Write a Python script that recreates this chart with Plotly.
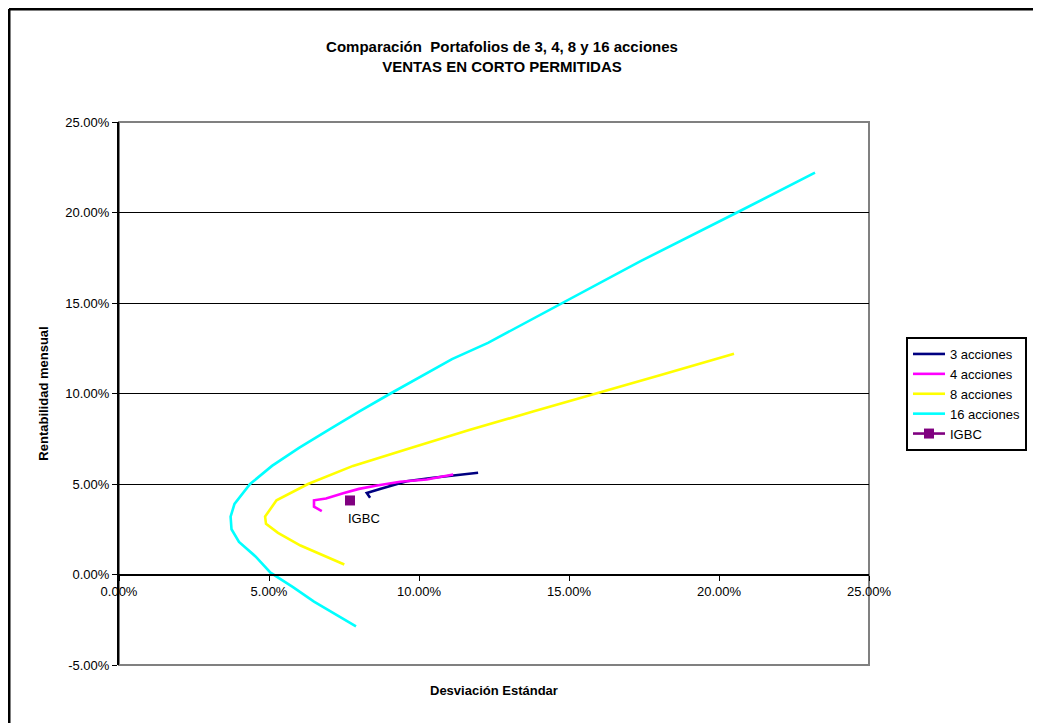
import plotly.graph_objects as go

# ---- data (percent units: x = desviación estándar, y = rentabilidad mensual) ----
s3_x = [8.37, 8.26, 8.70, 9.59, 10.47, 11.37, 11.97]
s3_y = [4.24, 4.50, 4.73, 5.15, 5.35, 5.52, 5.62]

s4_x = [6.76, 6.50, 6.50, 6.90, 7.50, 8.00, 8.60, 9.37, 10.26, 10.90, 11.14]
s4_y = [3.50, 3.75, 4.10, 4.20, 4.50, 4.73, 4.92, 5.12, 5.25, 5.43, 5.52]

s8_x = [7.51, 6.90, 6.05, 5.30, 4.90, 4.87, 5.25, 6.30, 7.80, 9.75, 11.70, 13.80, 15.87, 17.60, 18.00, 20.10, 20.50]
s8_y = [0.55, 1.00, 1.60, 2.30, 2.80, 3.20, 4.10, 5.00, 6.00, 7.00, 8.00, 9.00, 10.00, 10.81, 11.00, 12.00, 12.20]

s16_x = [7.90, 7.20, 6.50, 5.80, 5.05, 4.55, 4.00, 3.75, 3.72, 3.85, 4.37, 5.10, 6.00, 7.00, 8.00, 9.05, 11.10, 12.30, 14.76, 17.37, 20.60, 23.20]
s16_y = [-2.87, -2.20, -1.50, -0.70, 0.10, 1.00, 1.80, 2.50, 3.20, 3.90, 5.00, 6.00, 7.00, 8.00, 9.00, 10.00, 11.90, 12.80, 15.00, 17.30, 20.00, 22.20]

igbc_x = [7.70]
igbc_y = [4.09]

series_names = ["3 acciones", "4 acciones", "8 acciones", "16 acciones"]
series_colors = ["#000080", "#FF00FF", "#FFFF00", "#00FFFF"]

x_ticks = [0, 5, 10, 15, 20, 25]
y_ticks = [-5, 0, 5, 10, 15, 20, 25]

title_line1 = "Comparación  Portafolios de 3, 4, 8 y 16 acciones"
title_line2 = "VENTAS EN CORTO PERMITIDAS"
x_title = "Desviación Estándar"
y_title = "Rentabilidad mensual"

FONT = "Liberation Sans, Arial, sans-serif"

# figure geometry (page body has an 8px offset)
W, H = 1033, 715
ML, MT, PW, PH = 111, 114, 750, 543
MR = W - ML - PW
MB = H - MT - PH

fig = go.Figure()
for xs, ys, name, col in zip([s3_x, s4_x, s8_x, s16_x], [s3_y, s4_y, s8_y, s16_y],
                             series_names, series_colors):
    fig.add_trace(go.Scatter(x=xs, y=ys, mode="lines", name=name,
                             line=dict(color=col, width=2.6)))

fig.add_trace(go.Scatter(x=igbc_x, y=igbc_y, mode="lines+markers", name="IGBC",
                         line=dict(color="#800080", width=2.6),
                         marker=dict(symbol="square", size=10, color="#800080")))

fig.add_annotation(x=igbc_x[0], y=igbc_y[0], text="IGBC", showarrow=False,
                   xanchor="left", yanchor="top", xshift=-4, yshift=-9,
                   font=dict(family=FONT, size=13, color="#000000"))

# plot area frame (grey)
fig.add_shape(type="rect", xref="paper", yref="paper", x0=0, x1=1, y0=0, y1=1,
              line=dict(color="#808080", width=2), layer="below")

# outer chart border (left & top edges of the figure)
bx = (1 - ML) / PW
by = (PH + MT - 1) / PH
fig.add_shape(type="line", xref="paper", yref="paper",
              x0=bx, x1=bx, y0=by, y1=-(MB + 20) / PH,
              line=dict(color="#000000", width=3))
fig.add_shape(type="line", xref="paper", yref="paper",
              x0=bx, x1=(W + 20 - ML) / PW, y0=by, y1=by,
              line=dict(color="#000000", width=3))

fig.update_layout(
    width=W, height=H,
    margin=dict(l=ML, r=MR, t=MT, b=MB),
    paper_bgcolor="white", plot_bgcolor="white",
    font=dict(family=FONT, size=13, color="#000000"),
    title=dict(text=f"<b>{title_line1}<br>{title_line2}</b>",
               x=494 / W, xanchor="center", xref="container",
               y=1 - 44 / H, yanchor="middle", yref="container",
               font=dict(family=FONT, size=15, color="#000000")),
    showlegend=True,
    legend=dict(x=(906 - 119) / PW, y=(665 - 337) / PH, xanchor="left", yanchor="top",
                bordercolor="#000000", borderwidth=2, bgcolor="white",
                font=dict(family=FONT, size=13), tracegroupgap=0,
                itemwidth=32),
    xaxis=dict(range=[0, 25], tickvals=x_ticks,
               ticktext=[f"{v:.2f}%" for v in x_ticks],
               showgrid=False, zeroline=False,
               showline=True, linecolor="#000000", linewidth=2,
               ticks="outside", ticklen=5, tickcolor="#000000", tickwidth=1,
               anchor="free", position=5 / 30,
               tickfont=dict(family=FONT, size=13),
               title=None),
    yaxis=dict(range=[-5, 25], tickvals=y_ticks,
               ticktext=[f"{v:.2f}%" for v in y_ticks],
               showgrid=True, gridcolor="#000000", gridwidth=1,
               zeroline=False, domain=[0, 1],
               showline=True, linecolor="#000000", linewidth=2,
               ticks="outside", ticklen=5, tickcolor="#000000", tickwidth=1,
               tickfont=dict(family=FONT, size=13),
               title=dict(text=f"<b>{y_title}</b>", standoff=14,
                          font=dict(family=FONT, size=13))),
)

fig.add_annotation(text=f"<b>{x_title}</b>", xref="paper", yref="paper",
                   x=0.5, y=(665 - 690) / PH, xanchor="center", yanchor="middle",
                   showarrow=False, font=dict(family=FONT, size=13))

fig.write_html("out.html")
